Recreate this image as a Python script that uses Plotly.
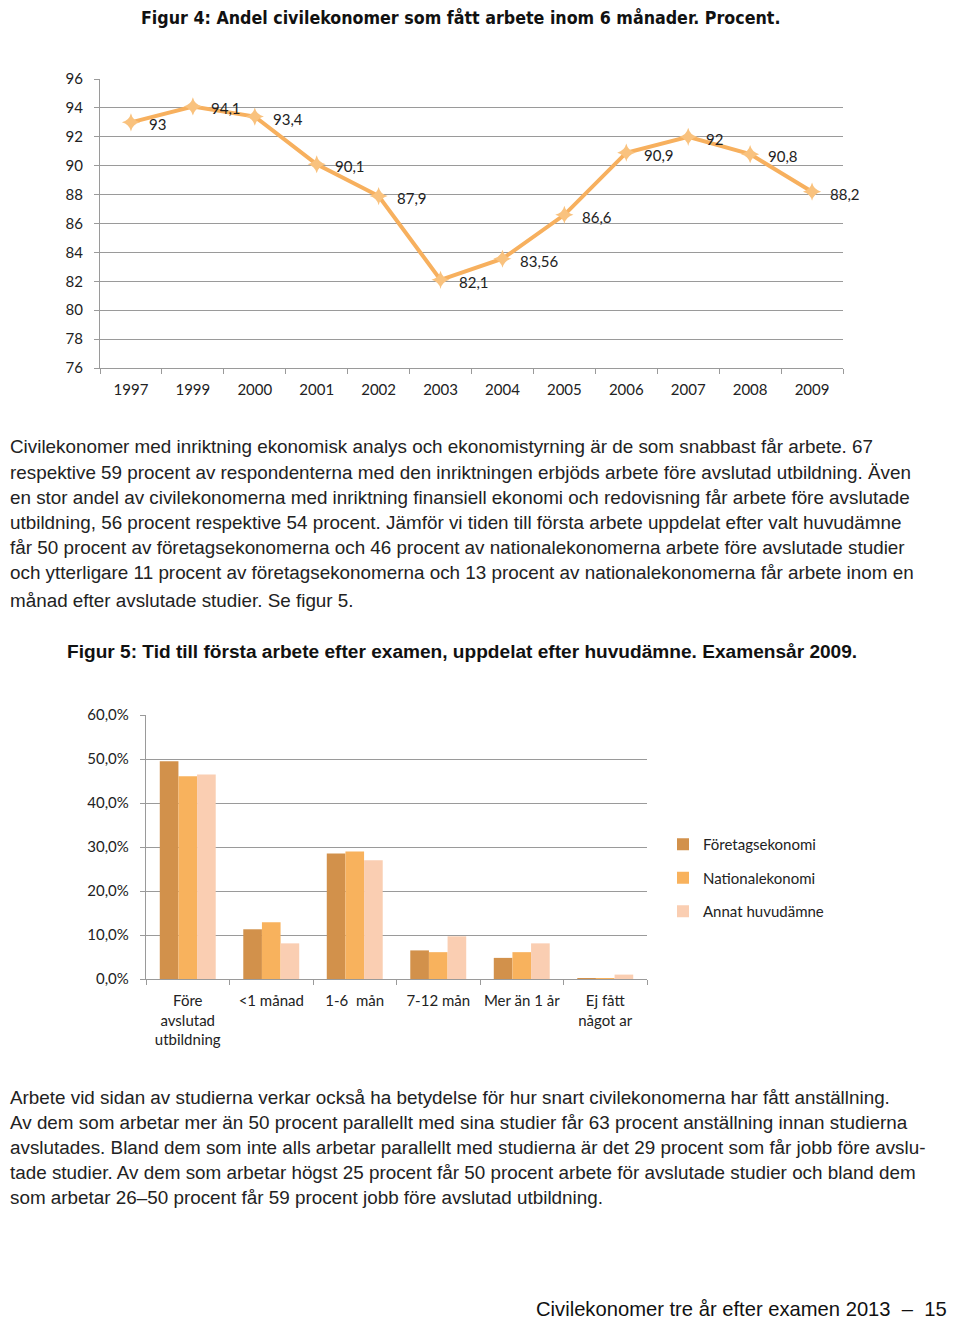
import plotly.graph_objects as go

# ---------------- data ----------------
years = ["1997", "1999", "2000", "2001", "2002", "2003", "2004", "2005", "2006", "2007", "2008", "2009"]
share_job = [93, 94.1, 93.4, 90.1, 87.9, 82.1, 83.56, 86.6, 90.9, 92, 90.8, 88.2]
share_labels = ["93", "94,1", "93,4", "90,1", "87,9", "82,1", "83,56", "86,6", "90,9", "92", "90,8", "88,2"]
y1_ticks = [76, 78, 80, 82, 84, 86, 88, 90, 92, 94, 96]

time_cats = ["Före<br>avslutad<br>utbildning", "<1 månad", "1-6  mån", "7-12 mån", "Mer än 1 år", "Ej fått<br>något ar"]
foretag = [49.5, 11.3, 28.5, 6.5, 4.8, 0.1]
national = [46.1, 12.9, 29.0, 6.1, 6.1, 0.1]
annat = [46.5, 8.1, 27.0, 9.7, 8.1, 1.0]
series_names = ["Företagsekonomi", "Nationalekonomi", "Annat huvudämne"]
y2_ticks = [0, 10, 20, 30, 40, 50, 60]
y2_ticktext = ["0,0%", "10,0%", "20,0%", "30,0%", "40,0%", "50,0%", "60,0%"]

para1 = [
    "Civilekonomer med inriktning ekonomisk analys och ekonomistyrning är de som snabbast får arbete. 67",
    "respektive 59 procent av respondenterna med den inriktningen erbjöds arbete före avslutad utbildning. Även",
    "en stor andel av civilekonomerna med inriktning finansiell ekonomi och redovisning får arbete före avslutade",
    "utbildning, 56 procent respektive 54 procent. Jämför vi tiden till första arbete uppdelat efter valt huvudämne",
    "får 50 procent av företagsekonomerna och 46 procent av nationalekonomerna arbete före avslutade studier",
    "och ytterligare 11 procent av företagsekonomerna och 13 procent av nationalekonomerna får arbete inom en",
    "månad efter avslutade studier. Se figur 5.",
]
para2 = [
    "Arbete vid sidan av studierna verkar också ha betydelse för hur snart civilekonomerna har fått anställning.",
    "Av dem som arbetar mer än 50 procent parallellt med sina studier får 63 procent anställning innan studierna",
    "avslutades. Bland dem som inte alls arbetar parallellt med studierna är det 29 procent som får jobb före avslu-",
    "tade studier. Av dem som arbetar högst 25 procent får 50 procent arbete för avslutade studier och bland dem",
    "som arbetar 26–50 procent får 59 procent jobb före avslutad utbildning.",
]

W, H = 960, 1323
OFF = 8  # page body margin in the browser


def px(x):
    return (x - OFF) / W


def py(y):
    return 1 - (y - OFF) / H


GRID = "#9a9a9a"
TXT = "#222222"
CHART_FONT = "Lato"
BODY_FONT = "Liberation Sans"
BODY_SIZE = 18.85

fig = go.Figure()

# ---------- chart 1: line ----------
fig.add_trace(go.Scatter(
    x=years, y=share_job, mode="lines+markers",
    line=dict(color="#F7B05E", width=4),
    marker=dict(symbol="star-diamond", size=13, color="#F9C27E", line=dict(width=0)),
    xaxis="x", yaxis="y", showlegend=False, hoverinfo="skip",
))

# ---------- chart 2: bars ----------
bar_colors = ["#D2914B", "#F8B25D", "#FACEB2"]
for i, (name, vals) in enumerate(zip(series_names, [foretag, national, annat])):
    fig.add_trace(go.Bar(
        x=time_cats, y=vals, name=name, marker=dict(color=bar_colors[i], line=dict(width=0)),
        xaxis="x2", yaxis="y2", legendgroup=name, hoverinfo="skip",
    ))

annotations = []
# data labels chart 1 (x given as category index)
for i, (v, lab) in enumerate(zip(share_job, share_labels)):
    annotations.append(dict(
        x=i, y=v, xref="x", yref="y", text=lab, showarrow=False,
        xanchor="left", yanchor="middle", xshift=16, yshift=-2,
        font=dict(family=CHART_FONT, size=15, color=TXT),
    ))

# titles
annotations.append(dict(
    x=px(460), y=py(17), xref="paper", yref="paper", showarrow=False,
    text="<b>Figur 4: Andel civilekonomer som fått arbete inom 6 månader. Procent.</b>",
    xanchor="center", yanchor="middle",
    font=dict(family="DejaVu Sans Condensed", size=17.7, color="#111111"),
))
annotations.append(dict(
    x=px(65), y=py(651), xref="paper", yref="paper", showarrow=False,
    text="<b>Figur 5: Tid till första arbete efter examen, uppdelat efter huvudämne. Examensår 2009.</b>",
    xanchor="left", yanchor="middle",
    font=dict(family=BODY_FONT, size=19.1, color="#111111"),
))

# body paragraphs
p1_y = [447, 472, 497, 522, 547, 572, 600]
for line, yy in zip(para1, p1_y):
    annotations.append(dict(
        x=px(8), y=py(yy), xref="paper", yref="paper", showarrow=False, text=line,
        xanchor="left", yanchor="middle", font=dict(family=BODY_FONT, size=BODY_SIZE, color=TXT),
    ))
p2_y = [1097, 1122, 1147, 1172, 1197]
for line, yy in zip(para2, p2_y):
    annotations.append(dict(
        x=px(8), y=py(yy), xref="paper", yref="paper", showarrow=False, text=line,
        xanchor="left", yanchor="middle", font=dict(family=BODY_FONT, size=BODY_SIZE, color=TXT),
    ))

# footer
annotations.append(dict(
    x=px(949), y=py(1309), xref="paper", yref="paper", showarrow=False,
    text="Civilekonomer tre år efter examen 2013  –  15",
    xanchor="right", yanchor="middle", font=dict(family=BODY_FONT, size=20.2, color="#111111"),
))

axis_common = dict(
    showline=True, linecolor=GRID, linewidth=1.3,
    ticks="outside", tickcolor=GRID, ticklen=5, tickwidth=1.3,
    tickfont=dict(family=CHART_FONT, size=15, color=TXT),
    fixedrange=True, zeroline=False, automargin=False,
)

fig.update_layout(
    width=W, height=H,
    margin=dict(l=0, r=0, t=0, b=0, pad=0),
    paper_bgcolor="white", plot_bgcolor="white",
    barmode="group", bargap=0.33, bargroupgap=0,
    showlegend=True,
    legend=dict(
        x=px(663), y=py(828), xanchor="left", yanchor="top",
        font=dict(family=CHART_FONT, size=15, color=TXT),
        tracegroupgap=11, bgcolor="rgba(0,0,0,0)",
        itemwidth=30,
    ),
    xaxis=dict(
        domain=[px(100), px(843)], anchor="y", type="category",
        range=[-0.5, len(years) - 0.5], tickson="boundaries",
        showgrid=False, ticklabelstandoff=8, tickangle=0,
        **axis_common,
    ),
    yaxis=dict(
        domain=[py(368), py(79)], anchor="x",
        range=[76, 96], tickvals=y1_ticks,
        showgrid=True, gridcolor=GRID, gridwidth=1.3, ticklabelstandoff=8,
        **axis_common,
    ),
    xaxis2=dict(
        domain=[px(146), px(647)], anchor="y2", type="category",
        range=[-0.5, len(time_cats) - 0.5], tickson="boundaries",
        showgrid=False, ticklabelstandoff=8, tickangle=0,
        **axis_common,
    ),
    yaxis2=dict(
        domain=[py(979), py(715)], anchor="x2",
        range=[0, 60], tickvals=y2_ticks, ticktext=y2_ticktext,
        showgrid=True, gridcolor=GRID, gridwidth=1.3, ticklabelstandoff=8,
        **axis_common,
    ),
    annotations=annotations,
)

fig.write_html("out.html")
